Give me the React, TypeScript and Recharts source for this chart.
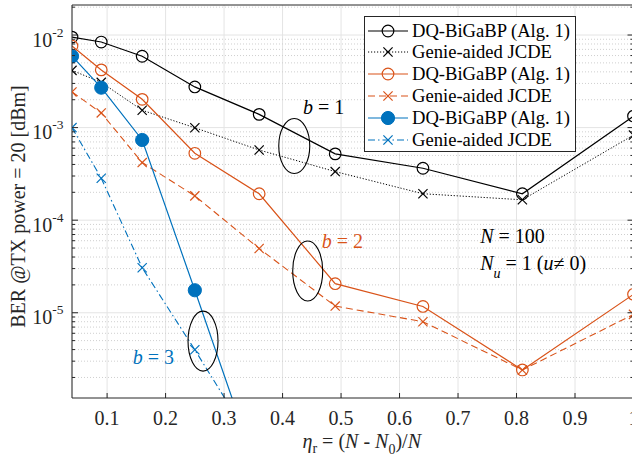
import React from 'react';
import {
  LineChart,
  Line,
  XAxis,
  YAxis,
  CartesianGrid,
  ReferenceLine,
  ReferenceDot,
  Legend,
} from 'recharts';

// eta_r = (N - N0)/N sample points
const etaR = [0.04, 0.09, 0.16, 0.25, 0.36, 0.49, 0.64, 0.81, 1.0];

// BER values (b = 1, 2, 3)
const dqB1 = [9.5e-3, 8.4e-3, 5.9e-3, 2.75e-3, 1.39e-3, 5.2e-4, 3.64e-4, 1.93e-4, 1.33e-3];
const genieB1 = [4.15e-3, 3.08e-3, 1.54e-3, 9.96e-4, 5.73e-4, 3.35e-4, 1.93e-4, 1.66e-4, 8.3e-4];
const dqB2 = [7.6e-3, 4.2e-3, 2.02e-3, 5.28e-4, 1.93e-4, 2.06e-5, 1.17e-5, 2.41e-6, 1.58e-5];
const genieB2 = [2.43e-3, 1.44e-3, 4.19e-4, 1.83e-4, 4.94e-5, 1.18e-5, 8.0e-6, 2.41e-6, 9.6e-6];
const dqB3 = [5.9e-3, 2.7e-3, 7.35e-4, 1.75e-5, 1.7e-7];
const genieB3 = [1.0e-3, 2.84e-4, 3.06e-5, 3.98e-6, 3.0e-7];

const xTicks = [0.1, 0.2, 0.3, 0.4, 0.5, 0.6, 0.7, 0.8, 0.9, 1.0];
const yMajor = [1e-5, 1e-4, 1e-3, 1e-2];
const yDomain: [number, number] = [1.2e-6, 2.11e-2];

const FONT = '"Liberation Serif", "Times New Roman", Times, serif';
const AXIS = '#262626';
const BLACK = '#000000';
const ORANGE = '#D95319';
const BLUE = '#0072BD';

// minor decade lines 2..9 x 10^k inside the domain
const yMinor: number[] = [];
for (let k = -6; k <= -2; k++) {
  for (let m = 2; m <= 9; m++) {
    const v = m * Math.pow(10, k);
    if (v > yDomain[0] && v < yDomain[1]) yMinor.push(v);
  }
}

type MarkerKind = 'open' | 'filled' | 'cross';

interface Series {
  id: string;
  name: string;
  values: number[];
  color: string;
  dash?: string;
  width: number;
  marker: MarkerKind;
}

const seriesList: Series[] = [
  { id: 'dq1', name: 'DQ-BiGaBP (Alg. 1)', values: dqB1, color: BLACK, width: 1.2, marker: 'open' },
  { id: 'g1', name: 'Genie-aided JCDE', values: genieB1, color: BLACK, dash: '1.2 1.8', width: 1, marker: 'cross' },
  { id: 'dq2', name: 'DQ-BiGaBP (Alg. 1)', values: dqB2, color: ORANGE, width: 1.2, marker: 'open' },
  { id: 'g2', name: 'Genie-aided JCDE', values: genieB2, color: ORANGE, dash: '7 4', width: 1.1, marker: 'cross' },
  { id: 'dq3', name: 'DQ-BiGaBP (Alg. 1)', values: dqB3, color: BLUE, width: 1.2, marker: 'filled' },
  { id: 'g3', name: 'Genie-aided JCDE', values: genieB3, color: BLUE, dash: '7 3 1.5 3', width: 1.1, marker: 'cross' },
];

const ellipses = [
  { x: 0.42, y: 6.33e-4, rx: 15.5, ry: 27.5 },
  { x: 0.443, y: 2.83e-5, rx: 15, ry: 30 },
  { x: 0.264, y: 4.94e-6, rx: 15, ry: 30 },
];

const bLabels = [
  { x: 0.435, y: 1.4e-3, b: 1, color: BLACK },
  { x: 0.467, y: 5.0e-5, b: 2, color: ORANGE },
  { x: 0.144, y: 2.79e-6, b: 3, color: BLUE },
];

const toPoints = (values: number[]) => values.map((ber, i) => ({ eta: etaR[i], ber }));

const MarkerShape = ({ cx, cy, kind, color }: { cx?: number; cy?: number; kind: MarkerKind; color: string }) => {
  if (cx == null || cy == null) return null;
  if (kind === 'open') {
    return <circle cx={cx} cy={cy} r={5.8} fill="none" stroke={color} strokeWidth={1.2} />;
  }
  if (kind === 'filled') {
    return <circle cx={cx} cy={cy} r={6.6} fill={color} stroke={color} strokeWidth={1} />;
  }
  const d = 4.6;
  return (
    <g stroke={color} strokeWidth={1.2}>
      <line x1={cx - d} y1={cy - d} x2={cx + d} y2={cy + d} />
      <line x1={cx - d} y1={cy + d} x2={cx + d} y2={cy - d} />
    </g>
  );
};

const isMajor = (v: number) => Math.abs(Math.log10(v) - Math.round(Math.log10(v))) < 1e-6;

const LeftYTick = (props: any) => {
  const { x, y, payload } = props;
  const v = payload.value;
  const major = isMajor(v);
  return (
    <g>
      <line x1={x} x2={x + (major ? 6 : 3)} y1={y} y2={y} stroke={AXIS} strokeWidth={1} />
      {major && (
        <text x={x - 8.5} y={y + 11.7} textAnchor="end" fontFamily={FONT} fontSize={20} fill={AXIS}>
          10
          <tspan dy={-10} fontSize={13.5}>{`-${Math.round(-Math.log10(v))}`}</tspan>
        </text>
      )}
    </g>
  );
};

const RightYTick = (props: any) => {
  const { x, y, payload } = props;
  const major = isMajor(payload.value);
  return <line x1={x} x2={x - (major ? 6 : 3)} y1={y} y2={y} stroke={AXIS} strokeWidth={1} />;
};

const BottomXTick = (props: any) => {
  const { x, y, payload } = props;
  const v = payload.value as number;
  return (
    <g>
      <line x1={x} x2={x} y1={y} y2={y - 5} stroke={AXIS} strokeWidth={1} />
      <text x={x} y={y + 27} textAnchor="middle" fontFamily={FONT} fontSize={20} fill={AXIS}>
        {v === 1 ? '1' : v.toFixed(1)}
      </text>
    </g>
  );
};

const TopXTick = (props: any) => {
  const { x, y } = props;
  return <line x1={x} x2={x} y1={y} y2={y + 5} stroke={AXIS} strokeWidth={1} />;
};

const XLabel = (props: any) => {
  const vb = props.viewBox || { x: 72, y: 398, width: 561.5 };
  const cx = vb.x + vb.width / 2 + 9;
  const by = vb.y + 50;
  return (
    <text x={cx} y={by} textAnchor="middle" fontFamily={FONT} fontSize={20} fill={AXIS}>
      <tspan fontStyle="italic">η</tspan>
      <tspan dy={5} fontSize={14}>r</tspan>
      <tspan dy={-5}> = (</tspan>
      <tspan fontStyle="italic">N</tspan>
      <tspan> - </tspan>
      <tspan fontStyle="italic">N</tspan>
      <tspan dy={6} fontSize={14}>0</tspan>
      <tspan dy={-6}>)/</tspan>
      <tspan fontStyle="italic">N</tspan>
    </text>
  );
};

const YLabel = (props: any) => {
  const vb = props.viewBox || { x: 0, y: 5, width: 72, height: 393 };
  const cx = vb.x + 25;
  const cy = vb.y + vb.height / 2 + 5;
  return (
    <text
      x={cx}
      y={cy}
      transform={`rotate(-90, ${cx}, ${cy})`}
      textAnchor="middle"
      fontFamily={FONT}
      fontSize={20}
      fill={AXIS}
    >
      BER @TX power = 20 [dBm]
    </text>
  );
};

const LegendBox = () => (
  <div
    style={{
      boxSizing: 'border-box',
      width: 212,
      height: 136,
      border: `1px solid ${AXIS}`,
      background: '#fff',
      padding: '3px 0 1px 3px',
    }}
  >
    {seriesList.map((s) => (
      <div key={s.id} style={{ display: 'flex', alignItems: 'center', height: 21.8 }}>
        <svg width={40} height={22} style={{ display: 'block' }}>
          <line x1={0} x2={40} y1={11} y2={11} stroke={s.color} strokeWidth={s.width} strokeDasharray={s.dash} />
          <MarkerShape cx={20} cy={11} kind={s.marker} color={s.color} />
        </svg>
        <span
          style={{
            marginLeft: 4,
            fontFamily: FONT,
            fontSize: 18.6,
            color: '#000',
            whiteSpace: 'nowrap',
            lineHeight: '21.8px',
          }}
        >
          {s.name}
        </span>
      </div>
    ))}
  </div>
);

export default function App() {
  return (
    <div style={{ width: 632, height: 464, overflow: 'hidden', position: 'relative', background: '#fff' }}>
      <style>{'body{margin:0}'}</style>
      <LineChart width={650} height={464} margin={{ top: 0, right: 0, bottom: 0, left: 0 }}>
        <CartesianGrid xAxisId="x" yAxisId="y" horizontal={false} stroke="#e4e4e4" />
        {yMinor.map((v) => (
          <ReferenceLine
            key={`mn-${v}`}
            xAxisId="x"
            yAxisId="y"
            y={v}
            stroke="#cfcfcf"
            strokeDasharray="1 2"
          />
        ))}
        {yMajor.map((v) => (
          <ReferenceLine key={`mj-${v}`} xAxisId="x" yAxisId="y" y={v} stroke="#e4e4e4" />
        ))}
        <XAxis
          xAxisId="x"
          dataKey="eta"
          type="number"
          domain={[0.04, 1]}
          allowDataOverflow
          ticks={xTicks}
          interval={0}
          height={66}
          tickLine={false}
          tickSize={0}
          tickMargin={0}
          tick={(p: any) => <BottomXTick {...p} />}
          stroke={AXIS}
          label={(p: any) => <XLabel {...p} />}
        />
        <XAxis
          xAxisId="top"
          orientation="top"
          type="number"
          domain={[0.04, 1]}
          allowDataOverflow
          ticks={xTicks}
          interval={0}
          height={5}
          tickLine={false}
          tickSize={0}
          tickMargin={0}
          tick={(p: any) => <TopXTick {...p} />}
          stroke={AXIS}
        />
        <YAxis
          yAxisId="y"
          type="number"
          scale="log"
          domain={yDomain}
          allowDataOverflow
          ticks={[...yMajor, ...yMinor]}
          interval={0}
          width={72}
          tickLine={false}
          tickSize={0}
          tickMargin={0}
          tick={(p: any) => <LeftYTick {...p} />}
          stroke={AXIS}
          label={(p: any) => <YLabel {...p} />}
        />
        <YAxis
          yAxisId="r"
          orientation="right"
          type="number"
          scale="log"
          domain={yDomain}
          allowDataOverflow
          ticks={[...yMajor, ...yMinor]}
          interval={0}
          width={16.5}
          tickLine={false}
          tickSize={0}
          tickMargin={0}
          tick={(p: any) => <RightYTick {...p} />}
          stroke={AXIS}
        />
        {seriesList.map((s) => (
          <Line
            key={s.id}
            xAxisId="x"
            yAxisId="y"
            data={toPoints(s.values)}
            dataKey="ber"
            name={s.name}
            stroke={s.color}
            strokeWidth={s.width}
            strokeDasharray={s.dash}
            isAnimationActive={false}
            dot={(p: any) => <MarkerShape key={`${s.id}-${p.index}`} cx={p.cx} cy={p.cy} kind={s.marker} color={s.color} />}
            activeDot={false}
          />
        ))}
        {ellipses.map((e, i) => (
          <ReferenceDot
            key={`el-${i}`}
            xAxisId="x"
            yAxisId="y"
            x={e.x}
            y={e.y}
            r={1}
            shape={(p: any) => (
              <ellipse cx={p.cx} cy={p.cy} rx={e.rx} ry={e.ry} fill="none" stroke={BLACK} strokeWidth={1.1} />
            )}
          />
        ))}
        {bLabels.map((t) => (
          <ReferenceDot
            key={`bl-${t.b}`}
            xAxisId="x"
            yAxisId="y"
            x={t.x}
            y={t.y}
            r={1}
            shape={(p: any) => (
              <text x={p.cx} y={p.cy} fontFamily={FONT} fontSize={20} fill={t.color}>
                <tspan fontStyle="italic">b</tspan>
                <tspan>{` = ${t.b}`}</tspan>
              </text>
            )}
          />
        ))}
        <ReferenceDot
          xAxisId="x"
          yAxisId="y"
          x={0.738}
          y={5.66e-5}
          r={1}
          shape={(p: any) => (
            <text x={p.cx} y={p.cy} fontFamily={FONT} fontSize={20} fill={BLACK}>
              <tspan fontStyle="italic">N</tspan>
              <tspan> = 100</tspan>
            </text>
          )}
        />
        <ReferenceDot
          xAxisId="x"
          yAxisId="y"
          x={0.738}
          y={2.89e-5}
          r={1}
          shape={(p: any) => (
            <text x={p.cx} y={p.cy} fontFamily={FONT} fontSize={20} fill={BLACK}>
              <tspan fontStyle="italic">N</tspan>
              <tspan dy={8} fontSize={14} fontStyle="italic">u</tspan>
              <tspan dy={-8}> = 1 (</tspan>
              <tspan fontStyle="italic">u</tspan>
              <tspan>≠ 0)</tspan>
            </text>
          )}
        />
        <Legend
          layout="vertical"
          align="center"
          verticalAlign="middle"
          content={() => <LegendBox />}
          wrapperStyle={{ left: 364, top: 15.7, width: 'auto', height: 'auto' }}
        />
      </LineChart>
    </div>
  );
}
